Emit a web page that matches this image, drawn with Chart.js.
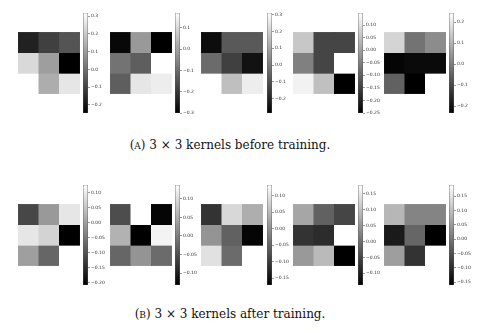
<!DOCTYPE html>
<html lang="en">
<head>
<meta charset="UTF-8">
<title>3x3 kernels before and after training</title>
<script src="https://cdn.jsdelivr.net/npm/chart.js"></script>
<style>
  body { margin: 0; background: #fff; }
  #fig { position: relative; width: 478px; height: 332px; overflow: hidden; }
  canvas { position: absolute; }
  .cap { position: absolute; left: 0; width: 460px; text-align: center;
         font-family: "DejaVu Serif", serif; font-size: 12px; color: #111; }
  .sc { font-size: 9px; }
</style>
</head>
<body>
<div id="fig">
  <div class="cap" style="top:138px">(<span class="sc">A</span>) 3 × 3 kernels before training.</div>
  <div class="cap" style="top:307px">(<span class="sc">B</span>) 3 × 3 kernels after training.</div>
</div>

<script>
// kernel weights, 3 rows x 3 columns each
const kernelsBefore = [
  [[-0.172, -0.105, -0.060], [0.233, 0.103, -0.245], [0.317, 0.137, 0.261]],
  [[-0.286, -0.018, -0.300], [-0.088, -0.126, 0.170], [-0.126, 0.123, 0.137]],
  [[-0.255, -0.077, -0.077], [-0.035, -0.136, -0.243], [0.310, 0.161, 0.268]],
  [[0.060, -0.143, -0.143], [-0.051, -0.143, 0.148], [0.128, 0.049, -0.250]],
  [[0.162, -0.019, 0.029], [-0.223, -0.214, -0.214], [-0.052, -0.233, 0.243]]
];
const kernelsAfter = [
  [[-0.114, -0.007, 0.093], [0.093, 0.069, -0.207], [0.000, -0.074, 0.126]],
  [[-0.051, 0.137, -0.127], [0.056, -0.132, 0.124], [-0.024, 0.024, -0.019]],
  [[-0.110, 0.087, 0.036], [0.005, -0.055, -0.165], [0.097, -0.043, 0.133]],
  [[0.068, -0.017, -0.052], [-0.074, -0.083, 0.178], [0.052, 0.093, -0.137]],
  [[0.091, 0.021, 0.021], [-0.125, -0.020, -0.160], [0.056, -0.090, 0.189]]
];

// colour ranges [vmin, vmax] of each colorbar
const rangesBefore = [[-0.245, 0.317], [-0.300, 0.170], [-0.285, 0.310], [-0.250, 0.148], [-0.233, 0.243]];
const rangesAfter = [[-0.207, 0.126], [-0.132, 0.137], [-0.171, 0.133], [-0.137, 0.178], [-0.160, 0.189]];

// colorbar tick labels
const ticksBefore = [
  [0.3, 0.2, 0.1, 0.0, -0.1, -0.2],
  [0.1, 0.0, -0.1, -0.2, -0.3],
  [0.3, 0.2, 0.1, 0.0, -0.1, -0.2],
  [0.10, 0.05, 0.00, -0.05, -0.10, -0.15, -0.20, -0.25],
  [0.2, 0.1, 0.0, -0.1, -0.2]
];
const ticksAfter = [
  [0.10, 0.05, 0.00, -0.05, -0.10, -0.15, -0.20],
  [0.10, 0.05, 0.00, -0.05, -0.10],
  [0.10, 0.05, 0.00, -0.05, -0.10, -0.15],
  [0.15, 0.10, 0.05, 0.00, -0.05, -0.10],
  [0.15, 0.10, 0.05, 0.00, -0.05, -0.10, -0.15]
];
const digitsBefore = [1, 1, 1, 2, 1];
const digitsAfter = [2, 2, 2, 2, 2];

// layout (pixels)
const heatX = [18, 110, 201, 293, 384];
const barX = [83, 175, 267, 358, 449];
const rowTop = [{ heat: 32, bar: 13 }, { heat: 204, bar: 185 }];
const heatSize = 62, barH = 100, pad = 4;

const fig = document.getElementById('fig');

function addCanvas(x, y, w, h) {
  const c = document.createElement('canvas');
  c.width = w; c.height = h;
  c.style.left = x + 'px'; c.style.top = y + 'px';
  fig.appendChild(c);
  return c;
}

function grey(v, range) {
  let f = (v - range[0]) / (range[1] - range[0]);
  f = Math.max(0, Math.min(1, f));
  const g = Math.round(255 * f);
  return 'rgb(' + g + ',' + g + ',' + g + ')';
}

function fmt(v, d) {
  return v.toFixed(d).replace('-', '\u2212');
}

function heatmap(canvas, kernel, range) {
  const datasets = kernel.map((row, r) => ({
    data: row.map(() => [r, r + 1]),
    backgroundColor: row.map(v => grey(v, range)),
    borderColor: row.map(v => grey(v, range)),
    borderWidth: 0.5,
    borderSkipped: false,
    grouped: false,
    categoryPercentage: 1,
    barPercentage: 1
  }));
  new Chart(canvas, {
    type: 'bar',
    data: { labels: ['0', '1', '2'], datasets: datasets },
    options: {
      responsive: false,
      animation: false,
      plugins: { legend: { display: false }, tooltip: { enabled: false } },
      layout: { padding: 0 },
      scales: {
        x: { display: false },
        y: { display: false, min: 0, max: 3, reverse: true }
      }
    }
  });
}

function colorbar(canvas, range, ticks, digits) {
  new Chart(canvas, {
    type: 'bar',
    data: {
      labels: [''],
      datasets: [{
        data: [range],
        backgroundColor: c => {
          const a = c.chart.chartArea;
          if (!a) return '#888';
          const g = c.chart.ctx.createLinearGradient(0, a.bottom, 0, a.top);
          g.addColorStop(0, '#000');
          g.addColorStop(1, '#fff');
          return g;
        },
        borderColor: '#555',
        borderWidth: 0.7,
        borderSkipped: false,
        categoryPercentage: 1,
        barPercentage: 1
      }]
    },
    options: {
      responsive: false,
      animation: false,
      plugins: { legend: { display: false }, tooltip: { enabled: false } },
      layout: { padding: { top: pad, bottom: pad, left: 1 } },
      scales: {
        x: { display: false },
        y: {
          position: 'right',
          min: range[0],
          max: range[1],
          afterBuildTicks: s => { s.ticks = ticks.map(v => ({ value: v })); },
          afterFit: s => { s.width = 25; },
          ticks: {
            autoSkip: false,
            padding: 1,
            color: '#333',
            font: { family: 'DejaVu Sans', size: 4.5 },
            callback: v => fmt(v, digits)
          },
          grid: { drawOnChartArea: false, tickLength: 2, color: '#333', lineWidth: 0.5 },
          border: { display: false }
        }
      }
    }
  });
}

const groups = [
  { kernels: kernelsBefore, ranges: rangesBefore, ticks: ticksBefore, digits: digitsBefore },
  { kernels: kernelsAfter, ranges: rangesAfter, ticks: ticksAfter, digits: digitsAfter }
];

groups.forEach((grp, row) => {
  grp.kernels.forEach((k, i) => {
    heatmap(addCanvas(heatX[i], rowTop[row].heat, heatSize, heatSize), k, grp.ranges[i]);
    colorbar(addCanvas(barX[i] - 1, rowTop[row].bar - pad, 31, barH + 2 * pad),
             grp.ranges[i], grp.ticks[i], grp.digits[i]);
  });
});
</script>
</body>
</html>
